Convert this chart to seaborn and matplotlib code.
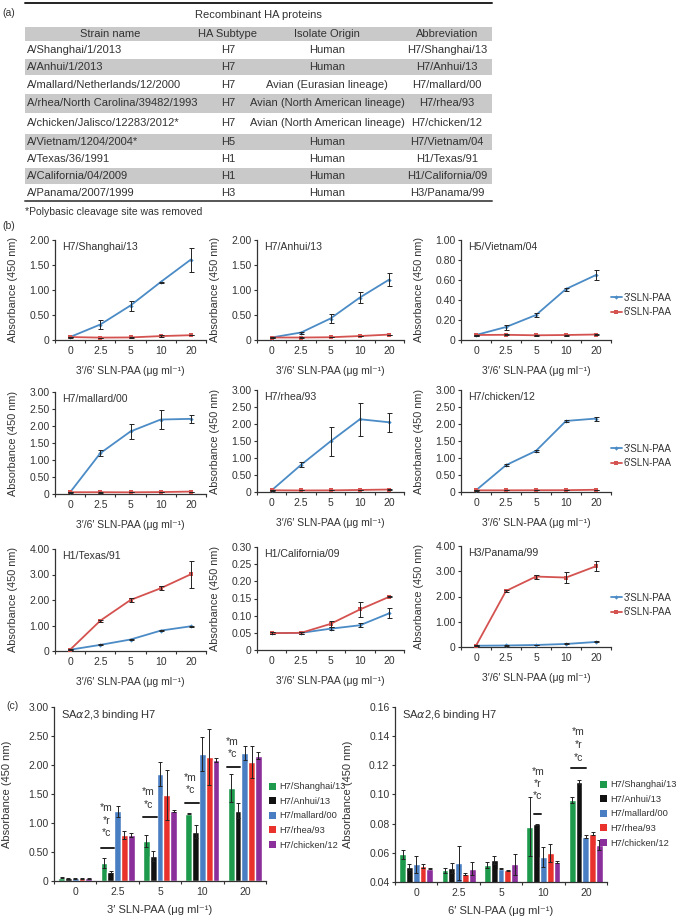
import numpy as np
import pandas as pd
import matplotlib
matplotlib.use("Agg")
import matplotlib.pyplot as plt
from matplotlib.lines import Line2D
from matplotlib.patches import Rectangle, Patch
import seaborn as sns

#### Data
conc_labels = ["0", "2.5", "5", "10", "20"]

# table (a)
strain_names = ["A/Shanghai/1/2013", "A/Anhui/1/2013", "A/mallard/Netherlands/12/2000",
                "A/rhea/North Carolina/39482/1993", "A/chicken/Jalisco/12283/2012*",
                "A/Vietnam/1204/2004*", "A/Texas/36/1991", "A/California/04/2009",
                "A/Panama/2007/1999"]
subtypes = ["H7", "H7", "H7", "H7", "H7", "H5", "H1", "H1", "H3"]
origins = ["Human", "Human", "Avian (Eurasian lineage)", "Avian (North American lineage)",
           "Avian (North American lineage)", "Human", "Human", "Human", "Human"]
abbrevs = ["H7/Shanghai/13", "H7/Anhui/13", "H7/mallard/00", "H7/rhea/93", "H7/chicken/12",
           "H7/Vietnam/04", "H1/Texas/91", "H1/California/09", "H3/Panama/99"]

# 3'SLN-PAA binding of the H7 proteins (used in b and c)
sh3 = [0.06, 0.31, 0.69, 1.16, 1.61]
sh3_err = [0.01, 0.09, 0.10, 0.01, 0.24]
ah3 = [0.05, 0.15, 0.43, 0.85, 1.21]
ah3_err = [0.01, 0.02, 0.09, 0.11, 0.13]
ml3 = [0.05, 1.20, 1.84, 2.19, 2.21]
ml3_err = [0.01, 0.09, 0.21, 0.29, 0.12]
rh3 = [0.05, 0.80, 1.49, 2.14, 2.05]
rh3_err = [0.01, 0.07, 0.43, 0.48, 0.28]
ck3 = [0.05, 0.79, 1.21, 2.09, 2.16]
ck3_err = [0.01, 0.03, 0.02, 0.03, 0.06]

# 6'SLN-PAA binding of the H7 proteins
sh6 = [0.059, 0.048, 0.0515, 0.078, 0.096]
sh6_err = [0.003, 0.0015, 0.002, 0.020, 0.002]
ah6 = [0.050, 0.0495, 0.055, 0.0795, 0.1085]
ah6_err = [0.002, 0.0035, 0.0025, 0.0006, 0.0015]
ml6 = [0.052, 0.053, 0.049, 0.057, 0.071]
ml6_err = [0.0055, 0.0115, 0.0003, 0.007, 0.001]
rh6 = [0.051, 0.0455, 0.048, 0.060, 0.073]
rh6_err = [0.0012, 0.001, 0.0003, 0.006, 0.001]
ck6 = [0.049, 0.049, 0.052, 0.0535, 0.0655]
ck6_err = [0.0003, 0.0045, 0.007, 0.0006, 0.0035]

# other strains
vn3 = [0.05, 0.13, 0.25, 0.51, 0.65]
vn3_err = [0.005, 0.025, 0.02, 0.015, 0.05]
vn6 = [0.05, 0.052, 0.047, 0.05, 0.055]
vn6_err = [0.005, 0.005, 0.005, 0.005, 0.005]
tx3 = [0.05, 0.24, 0.45, 0.80, 0.97]
tx3_err = [0.01, 0.02, 0.02, 0.03, 0.03]
tx6 = [0.05, 1.19, 2.00, 2.46, 3.01]
tx6_err = [0.02, 0.04, 0.06, 0.07, 0.52]
ca3 = [0.049, 0.050, 0.062, 0.072, 0.107]
ca3_err = [0.002, 0.002, 0.005, 0.006, 0.015]
ca6 = [0.049, 0.050, 0.076, 0.118, 0.155]
ca6_err = [0.003, 0.002, 0.008, 0.022, 0.002]
pa3 = [0.05, 0.06, 0.08, 0.12, 0.20]
pa3_err = [0.01, 0.01, 0.01, 0.02, 0.02]
pa6 = [0.05, 2.22, 2.79, 2.75, 3.20]
pa6_err = [0.02, 0.04, 0.08, 0.21, 0.19]

h7_strains = ["H7/Shanghai/13", "H7/Anhui/13", "H7/mallard/00", "H7/rhea/93", "H7/chicken/12"]
bar_colors = ["#1e9a4c", "#111111", "#4a7ec2", "#e8322b", "#8b2f9b"]

#### Style
sns.set_style("ticks")
plt.rcParams['font.family'] = ['Liberation Sans', 'DejaVu Sans']
plt.rcParams['mathtext.fontset'] = 'dejavusans'
TXT = '#333333'
BLUE = '#4b8bc6'
RED = '#d4524f'

W, H = 685, 916
fig = plt.figure(figsize=(W / 100, H / 100), dpi=100)


def px_rect(x0, x1, y0, y1):
    return [x0 / W, 1 - y1 / H, (x1 - x0) / W, (y1 - y0) / H]


def fmt_tick(v):
    if abs(v) < 1e-9:
        return "0"
    return f"{v:.2f}"


def style_axis(ax, ymin, ymax, ystep, xlabel, w_px, h_px, ylab_off, xlab_off=26, fs=7.5):
    ax.set_xlim(-0.5, 4.5)
    ax.set_ylim(ymin, ymax)
    yt = np.arange(ymin, ymax + ystep / 2, ystep)
    ax.set_yticks(yt)
    ax.set_yticklabels([fmt_tick(v) for v in yt])
    ax.set_xticks(range(5))
    ax.set_xticklabels(conc_labels)
    ax.set_xticks(np.arange(-0.5, 5, 1), minor=True)
    ax.tick_params(axis='x', which='major', length=0, pad=4.5, labelsize=fs, colors=TXT)
    ax.tick_params(axis='x', which='minor', length=2.5, width=0.8, direction='out', color='#333333')
    ax.tick_params(axis='y', length=2.5, width=0.8, direction='out', pad=1.5, labelsize=fs,
                   colors=TXT)
    for s in ['top', 'right']:
        ax.spines[s].set_visible(False)
    for s in ['left', 'bottom']:
        ax.spines[s].set_linewidth(0.9)
        ax.spines[s].set_color('#333333')
    ax.set_xlabel(xlabel, fontsize=fs, color=TXT)
    ax.set_ylabel("Absorbance (450 nm)", fontsize=fs + 0.3, color=TXT)
    ax.xaxis.set_label_coords(0.5, -xlab_off / h_px)
    ax.yaxis.set_label_coords(-ylab_off / w_px, 0.5)
    ax.set_facecolor('none')


#### (a) table, drawn on a full-figure axes in pixel units
tab = fig.add_axes([0, 0, 1, 1], zorder=-1)
tab.set_xlim(0, W)
tab.set_ylim(H, 0)
tab.axis('off')

row_edges = [41, 58, 75, 93, 113, 133, 150, 167, 184, 201]
tab.add_patch(Rectangle((25, 27), 467, 14, color='#c9c9c9', lw=0))
for i in range(9):
    if i % 2 == 1:
        tab.add_patch(Rectangle((25, row_edges[i] + 1), 467, row_edges[i + 1] - row_edges[i] - 1,
                                color='#c9c9c9', lw=0))
tab.plot([25, 492], [3, 3], color='#222222', lw=1.4)
tab.plot([25, 492], [201, 201], color='#555555', lw=1.4)
tfs = 8
tab.text(258, 15, "Recombinant HA proteins", ha='center', va='center', fontsize=tfs, color=TXT)
for x, t in zip([110, 228, 327, 447], ["Strain name", "HA Subtype", "Isolate Origin", "Abbreviation"]):
    tab.text(x, 34, t, ha='center', va='center', fontsize=tfs, color=TXT)
for i in range(9):
    yc = (row_edges[i] + row_edges[i + 1]) / 2 + 0.5
    tab.text(27, yc, strain_names[i], ha='left', va='center', fontsize=tfs, color=TXT)
    tab.text(228, yc, subtypes[i], ha='center', va='center', fontsize=tfs, color=TXT)
    tab.text(327, yc, origins[i], ha='center', va='center', fontsize=tfs, color=TXT)
    tab.text(447, yc, abbrevs[i], ha='center', va='center', fontsize=tfs, color=TXT)
tab.text(25, 212, "*Polybasic cleavage site was removed", ha='left', va='center', fontsize=7.5, color=TXT)
tab.text(2, 13, "(a)", ha='left', va='center', fontsize=7.5, color=TXT)
tab.text(2, 226, "(b)", ha='left', va='center', fontsize=7.5, color=TXT)
tab.text(6, 706, "(c)", ha='left', va='center', fontsize=7.5, color=TXT)

#### (b) line panels
line_xlabel = "3\u2032/6\u2032 SLN-PAA (\u03bcg ml\u207b\u00b9)"
cols = [(55, 206), (257, 404), (461, 611)]
panels = [
    ("H7/Shanghai/13", sh3, sh3_err, sh6, sh6_err, 2.0, 0.5, 0, (240, 340)),
    ("H7/Anhui/13", ah3, ah3_err, ah6, ah6_err, 2.0, 0.5, 1, (240, 340)),
    ("H5/Vietnam/04", vn3, vn3_err, vn6, vn6_err, 1.0, 0.2, 2, (240, 340)),
    ("H7/mallard/00", ml3, ml3_err, ml6, ml6_err, 3.0, 0.5, 0, (392, 494)),
    ("H7/rhea/93", rh3, rh3_err, rh6, rh6_err, 3.0, 0.5, 1, (390, 492)),
    ("H7/chicken/12", ck3, ck3_err, ck6, ck6_err, 3.0, 0.5, 2, (390, 492)),
    ("H1/Texas/91", tx3, tx3_err, tx6, tx6_err, 4.0, 1.0, 0, (549, 651)),
    ("H1/California/09", ca3, ca3_err, ca6, ca6_err, 0.30, 0.05, 1, (547, 650)),
    ("H3/Panama/99", pa3, pa3_err, pa6, pa6_err, 4.0, 1.0, 2, (546, 647)),
]
idx = np.arange(5)
for name, v3, e3, v6, e6, ymax, ystep, c, (yt, yb) in panels:
    x0, x1 = cols[c]
    ax = fig.add_axes(px_rect(x0, x1, yt, yb))
    for vals, errs, col, mk, ms in [(v3, e3, BLUE, 'D', 2.2), (v6, e6, RED, 's', 2.8)]:
        sns.lineplot(x=idx, y=vals, color=col, lw=1.3, marker=mk, markersize=ms,
                     markeredgewidth=0, ax=ax, zorder=3)
        ax.errorbar(idx, vals, yerr=errs, fmt='none', ecolor='#222222', elinewidth=0.7,
                    capsize=1.8, capthick=0.7, zorder=4)
    style_axis(ax, 0, ymax, ystep, line_xlabel, x1 - x0, yb - yt, 37)
    ax.text(7 / (x1 - x0), 1 - 7 / (yb - yt), name, transform=ax.transAxes, ha='left',
            va='center', fontsize=7.6, color=TXT)

line_handles = [Line2D([], [], color=BLUE, lw=1.3, marker='D', markersize=2.2, markeredgewidth=0),
                Line2D([], [], color=RED, lw=1.3, marker='s', markersize=2.8, markeredgewidth=0)]
for ymid in [305, 456, 605]:
    fig.legend(line_handles, ["3\u2032SLN-PAA", "6\u2032SLN-PAA"], loc='center left',
               bbox_to_anchor=(611 / W, 1 - ymid / H), frameon=False, fontsize=7,
               handlelength=1.1, handletextpad=0.2, labelspacing=0.45, borderpad=0,
               borderaxespad=0, labelcolor=TXT)

#### (c) bar panels
bar_sets = [
    ([sh3, ah3, ml3, rh3, ck3], [sh3_err, ah3_err, ml3_err, rh3_err, ck3_err],
     (54, 266, 707, 881), 0, 3.0, 0.5, "3\u2032 SLN-PAA (\u03bcg ml\u207b\u00b9)",
     r"SA$\alpha$2,3 binding H7", 269, 816),
    ([sh6, ah6, ml6, rh6, ck6], [sh6_err, ah6_err, ml6_err, rh6_err, ck6_err],
     (395, 607, 707, 882), 0.04, 0.16, 0.02, "6\u2032 SLN-PAA (\u03bcg ml\u207b\u00b9)",
     r"SA$\alpha$2,6 binding H7", 600, 814),
]
# significance marks: (group, line y, line x-range, text x, text y list)
sig_left = [(1, 0.57, (-0.40, -0.08), -0.26, [0.83, 1.04, 1.26]),
            (2, 1.10, (-0.40, -0.08), -0.28, [1.31, 1.53]),
            (3, 1.34, (-0.42, -0.09), -0.28, [1.57, 1.78]),
            (4, 1.97, (-0.43, -0.12), -0.30, [2.19, 2.40])]
sig_right = [(3, 0.0866, (-0.22, -0.05), -0.13, [0.0990, 0.1072, 0.1154]),
             (4, 0.1180, (-0.34, 0.00), -0.18, [0.1250, 0.1340, 0.1429])]

for (vals, errs, (x0, x1, yt, yb), ymin, ymax, ystep, xlab, title, lgx, lgy), sigs in zip(bar_sets, [sig_left, sig_right]):
    ax = fig.add_axes(px_rect(x0, x1, yt, yb))
    df = pd.DataFrame({
        'conc': np.tile(conc_labels, 5),
        'strain': np.repeat(h7_strains, 5),
        'value': np.concatenate(vals),
    })
    sns.barplot(data=df, x='conc', y='value', hue='strain', order=conc_labels,
                hue_order=h7_strains, palette=bar_colors, saturation=1, errorbar=None,
                width=0.8, ax=ax, legend=False, zorder=2)
    for k in range(5):
        xs = idx + (k - 2) * 0.16
        lo = np.minimum(np.array(errs[k]), np.array(vals[k]) - ymin)
        ax.errorbar(xs, vals[k], yerr=[lo, errs[k]], fmt='none', ecolor='#222222',
                    elinewidth=0.7, capsize=1.5, capthick=0.7, zorder=4)
    style_axis(ax, ymin, ymax, ystep, xlab, x1 - x0, yb - yt, 42, xlab_off=24)
    ax.set_xlabel(xlab, fontsize=8, color=TXT)
    ax.yaxis.label.set_fontsize(8)
    ax.text(7 / (x1 - x0), 1 - 8 / (yb - yt), title, transform=ax.transAxes, ha='left',
            va='center', fontsize=8, color=TXT)
    for g, ly, (lx0, lx1), tx, tys in sigs:
        ax.plot([g + lx0, g + lx1], [ly, ly], color='#222222', lw=1.4, zorder=5)
        labs = ["*c", "*r", "*m"] if len(tys) == 3 else ["*c", "*m"]
        for lab, ty in zip(labs, tys):
            ax.text(g + tx, ty, lab, ha='center', va='center', fontsize=7.5, color=TXT)
    handles = [Patch(facecolor=c, edgecolor='none') for c in bar_colors]
    fig.legend(handles, h7_strains, loc='center left', bbox_to_anchor=(lgx / W, 1 - lgy / H),
               frameon=False, fontsize=6.7, handlelength=0.8, handleheight=0.8,
               handletextpad=0.25, labelspacing=0.6, borderpad=0, borderaxespad=0,
               labelcolor=TXT)

fig.savefig("out.png", dpi=100)
